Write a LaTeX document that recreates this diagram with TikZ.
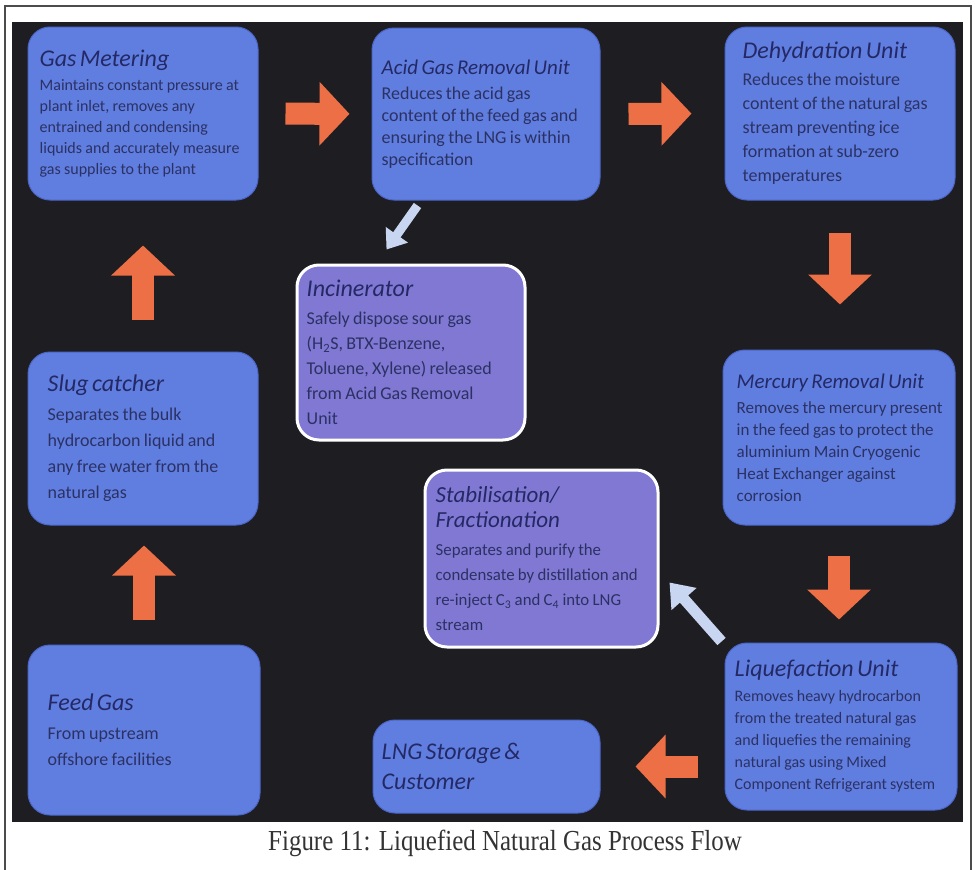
\documentclass[tikz,border=0pt]{standalone}
\usepackage{fontspec}
\usepackage{graphicx}
\setmainfont{Carlito}
\newfontfamily\capfont{Liberation Serif}
\usetikzlibrary{arrows.meta,calc}
\definecolor{panel}{HTML}{1E1E22}
\definecolor{boxblue}{HTML}{5F7EE0}
\definecolor{boxedge}{HTML}{4C66C8}
\definecolor{boxpurple}{HTML}{8078D2}
\definecolor{hdcol}{HTML}{242965}
\definecolor{bdcol}{HTML}{2C3164}
\definecolor{orangearr}{HTML}{EC6F45}
\definecolor{lightarr}{HTML}{C9D6F2}
\newcommand{\bh}[3]{{\color{hdcol}\fontsize{#1}{#2}\selectfont\itshape #3\par}}
\newcommand{\bb}[3]{{\color{bdcol}\fontsize{#1}{#2}\selectfont #3\par}}
\begin{document}
\begin{tikzpicture}[x=1pt,y=-1pt,
  bluebox/.style={rounded corners=22pt, fill=boxblue, draw=boxedge, line width=1pt},
  purplebox/.style={rounded corners=22pt, fill=boxpurple, draw=white, line width=3pt},
  txt/.style={anchor=west, inner sep=0pt, align=left},
  bigarrow/.style={draw=orangearr, line width=22pt, -{Triangle[length=30pt,width=62pt]}},
  thinarrow/.style={draw=lightarr, line width=9pt, -{Triangle[length=18pt,width=26pt]}}]
\useasboundingbox (0,0) rectangle (975,870);
\fill[white] (0,0) rectangle (975,870);
\draw[black!70, line width=1.5pt] (5,875) -- (5,6) -- (971,6) -- (971,875);
\fill[panel] (12,22) rectangle (963,822);

% boxes
\node[bluebox, minimum width=230pt, minimum height=173pt] (gm) at (143,113.5) {};
\node[bluebox, minimum width=228pt, minimum height=172pt] (agr) at (486,114) {};
\node[bluebox, minimum width=230pt, minimum height=173pt] (dh) at (840,113.5) {};
\node[purplebox, minimum width=228pt, minimum height=175pt] (inc) at (411,352.5) {};
\node[bluebox, minimum width=230pt, minimum height=173pt] (slug) at (143,438.5) {};
\node[bluebox, minimum width=232pt, minimum height=175pt] (mr) at (839,437.5) {};
\node[purplebox, minimum width=233pt, minimum height=177pt] (stab) at (541.5,558.5) {};
\node[bluebox, minimum width=232pt, minimum height=170pt] (feed) at (144,730) {};
\node[bluebox, minimum width=227pt, minimum height=93pt] (lng) at (486.5,766.5) {};
\node[bluebox, minimum width=232pt, minimum height=167pt] (lq) at (841,726.5) {};

% texts
\node[txt, text width=214pt] (gmt) at ($(gm.west)+(12,0)$)
 {\bh{24}{28}{Gas Metering}\vspace{3pt}\bb{16}{21}{Maintains constant pressure at\\ plant inlet, removes any\\ entrained and condensing\\ liquids and accurately measure\\ gas supplies to the plant}};
\node[txt, text width=214pt] (agrt) at ($(agr.west)+(10,0)$)
 {\bh{21}{25}{Acid Gas Removal Unit}\vspace{3pt}\bb{18}{22}{Reduces the acid gas\\ content of the feed gas and\\ ensuring the LNG is within\\ specification}};
\node[txt, text width=208pt] (dht) at ($(dh.west)+(18,0)$)
 {\bh{24}{28}{Dehydration Unit}\vspace{3pt}\bb{18}{24}{Reduces the moisture\\ content of the natural gas\\ stream preventing ice\\ formation at sub-zero\\ temperatures}};
\node[txt, text width=214pt] (inct) at ($(inc.west)+(11,0)$)
 {\bh{24}{28}{Incinerator}\vspace{3pt}\bb{18}{25}{Safely dispose sour gas\\ (H\textsubscript{2}S, BTX-Benzene,\\ Toluene, Xylene) released\\ from Acid Gas Removal\\ Unit}};
\node[txt, text width=206pt] (slugt) at ($(slug.west)+(20,0)$)
 {\bh{24}{28}{Slug catcher}\vspace{3pt}\bb{18}{26}{Separates the bulk\\ hydrocarbon liquid and\\ any free water from the\\ natural gas}};
\node[txt, text width=214pt] (mrt) at ($(mr.west)+(14,0)$)
 {\bh{21}{25}{Mercury Removal Unit}\vspace{3pt}\bb{17}{22}{Removes the mercury present\\ in the feed gas to protect the\\ aluminium Main Cryogenic\\ Heat Exchanger against\\ corrosion}};
\node[txt, text width=218pt] (stabt) at ($(stab.west)+(12,0)$)
 {\bh{23}{25}{Stabilisation/\\ Fractionation}\vspace{3pt}\bb{16.8}{25}{Separates and purify the\\ condensate by distillation and\\ re-inject C\textsubscript{3} and C\textsubscript{4} into LNG\\ stream}};
\node[txt, text width=208pt] (feedt) at ($(feed.west)+(20,0)$)
 {\bh{24}{28}{Feed Gas}\vspace{3pt}\bb{18}{26}{From upstream\\ offshore facilities}};
\node[txt, text width=214pt] (lngt) at ($(lng.west)+(9,0)$)
 {\bh{24}{30}{LNG Storage \&\\ Customer}};
\node[txt, text width=220pt] (lqt) at ($(lq.west)+(10,0)$)
 {\bh{24}{28}{Liquefaction Unit}\vspace{3pt}\bb{16}{22}{Removes heavy hydrocarbon\\ from the treated natural gas\\ and liquefies the remaining\\ natural gas using Mixed\\ Component Refrigerant system}};

% orange flow arrows
\draw[bigarrow, shorten <=27pt, shorten >=22pt] (gm.east) -- (agr.west);
\draw[bigarrow, shorten <=28pt, shorten >=33pt] (agr.east) -- (dh.west);
\draw[bigarrow, shorten <=32pt, shorten >=45pt] (dh.south) -- (dh.south |- mr.north);
\draw[bigarrow, shorten <=30pt, shorten >=23pt] (mr.south) -- (mr.south |- lq.north);
\draw[bigarrow, shorten <=27pt, shorten >=35pt] (lq.west |- lng.east) -- (lng.east);
\draw[bigarrow, shorten <=25pt, shorten >=20pt] (feed.north) -- (feed.north |- slug.south);
\draw[bigarrow, shorten <=32pt, shorten >=45pt] (slug.north) -- (slug.north |- gm.south);

% light side arrows
\draw[thinarrow] ($(agr.south west)+(46,5)$) -- ($(inc.north west)+(91,-14)$);
\draw[thinarrow, line width=11pt, -{Triangle[length=22pt,width=32pt]}] ($(lq.north west)+(-3,-1)$) -- ($(stab.east)+(10,24)$);

% caption
\node[text=black!80, font=\capfont\fontsize{29}{32}\selectfont] (cap) at (505,843)
 {\scalebox{0.86}[1]{Figure 11: Liquefied Natural Gas Process Flow}};
\end{tikzpicture}
\end{document}
